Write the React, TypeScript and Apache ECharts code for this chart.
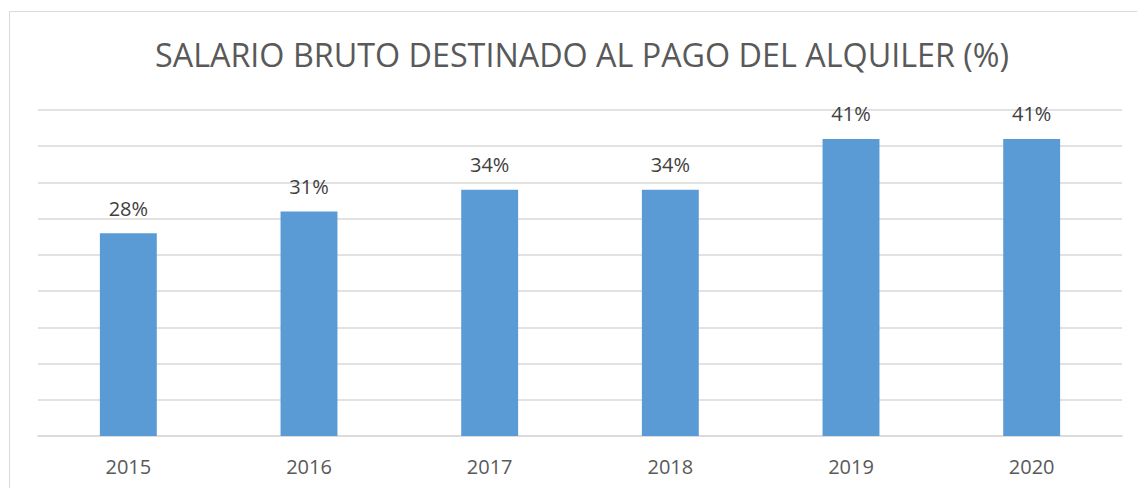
import React, { useEffect, useRef } from "react";
import * as echarts from "echarts";

const categories = ["2015", "2016", "2017", "2018", "2019", "2020"];
const values = [28, 31, 34, 34, 41, 41];
const titleText = "SALARIO BRUTO DESTINADO AL PAGO DEL ALQUILER (%)";

export default function App() {
  const ref = useRef<HTMLDivElement>(null);
  useEffect(() => {
    if (!ref.current) return;
    const chart = echarts.init(ref.current, undefined, { renderer: "svg" });
    chart.setOption({
      animation: false,
      backgroundColor: "#ffffff",
      title: {
        text: titleText,
        left: 155,
        top: 38,
        padding: 0,
        textStyle: {
          fontFamily: "Open Sans",
          fontSize: 32.3,
          fontWeight: "normal",
          color: "#595959",
        },
      },
      graphic: [
        {
          type: "rect",
          shape: { x: 9.5, y: 11.5, width: 1300, height: 700 },
          style: { fill: "none", stroke: "#d9d9d9", lineWidth: 1 },
          silent: true,
        },
      ],
      grid: { left: 38, right: 15, top: 110, bottom: 52, containLabel: false },
      xAxis: {
        type: "category",
        data: categories,
        axisLine: { show: true, lineStyle: { color: "#d9d9d9", width: 1.5 } },
        axisTick: { show: false },
        axisLabel: {
          margin: 20,
          fontFamily: "Open Sans",
          fontSize: 20,
          color: "#595959",
        },
      },
      yAxis: {
        type: "value",
        min: 0,
        max: 45,
        interval: 5,
        axisLine: { show: false },
        axisTick: { show: false },
        axisLabel: { show: false },
        splitLine: { show: true, lineStyle: { color: "#d9d9d9", width: 1.5 } },
      },
      series: [
        {
          type: "bar",
          data: values,
          barWidth: "31.5%",
          itemStyle: { color: "#5b9bd5" },
          label: {
            show: true,
            position: "top",
            distance: 15,
            formatter: "{c}%",
            fontFamily: "Open Sans",
            fontSize: 20,
            color: "#404040",
          },
        },
      ],
    });
    return () => chart.dispose();
  }, []);
  return (
    <div
      ref={ref}
      style={{ position: "fixed", left: 0, top: 0, width: 1137, height: 488 }}
    />
  );
}
